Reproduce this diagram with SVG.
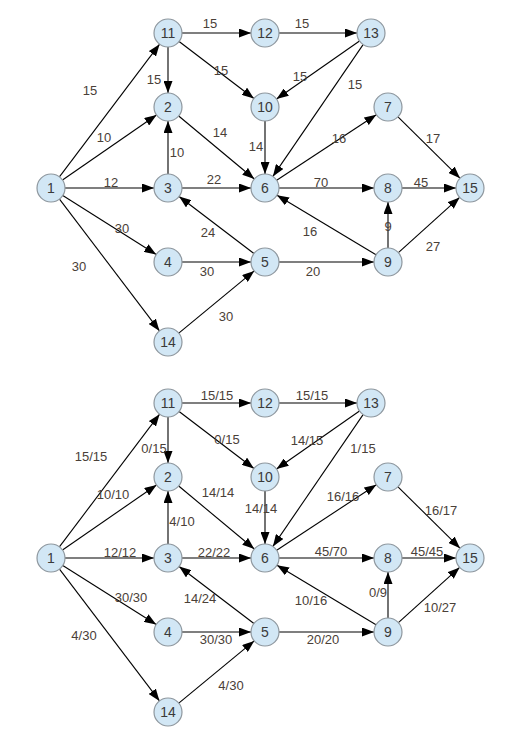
<svg xmlns="http://www.w3.org/2000/svg" width="525" height="740" viewBox="0 0 525 740">
<style>
.n circle{fill:#d2e7f5;stroke:#8e979e;stroke-width:1.2}
.n text{font-family:"Liberation Sans",Arial,sans-serif;font-size:14px;fill:#3a3a3a;text-anchor:middle;dominant-baseline:central}
.e line{stroke:#000;stroke-width:1.1;marker-end:url(#ah)}
.l text{font-family:"Liberation Sans",Arial,sans-serif;font-size:13px;fill:#4a4038;text-anchor:middle;dominant-baseline:central}
</style>
<defs>
<marker id="ah" markerUnits="userSpaceOnUse" markerWidth="13" markerHeight="9" refX="12" refY="4.5" orient="auto"><path d="M0,0 L12,4.5 L0,9 z" fill="#000"/></marker>
</defs>
<rect width="525" height="740" fill="#fff"/>

<g id="top">
<g id="connectors-top" class="e">
<line x1="59.4" y1="176.8" x2="159.6" y2="44.2"/>
<line x1="62.5" y1="180" x2="156.5" y2="115"/>
<line x1="65" y1="188" x2="154" y2="188"/>
<line x1="62.8" y1="195.5" x2="156.2" y2="254.5"/>
<line x1="59.5" y1="199.1" x2="159.5" y2="330.9"/>
<line x1="182" y1="33" x2="251" y2="33"/>
<line x1="168" y1="47" x2="168" y2="93"/>
<line x1="179.1" y1="41.5" x2="253.9" y2="98.5"/>
<line x1="279" y1="33" x2="357" y2="33"/>
<line x1="359.5" y1="41" x2="276.5" y2="99"/>
<line x1="363.1" y1="44.6" x2="272.9" y2="176.4"/>
<line x1="178.7" y1="116" x2="254.3" y2="179"/>
<line x1="168" y1="174" x2="168" y2="121"/>
<line x1="265" y1="121" x2="265" y2="174"/>
<line x1="182" y1="188" x2="251" y2="188"/>
<line x1="276.7" y1="180.3" x2="376.3" y2="114.7"/>
<line x1="398" y1="116.8" x2="460" y2="178.2"/>
<line x1="279" y1="188" x2="374" y2="188"/>
<line x1="402" y1="188" x2="456" y2="188"/>
<line x1="253.9" y1="253.5" x2="179.1" y2="196.5"/>
<line x1="182" y1="262" x2="251" y2="262"/>
<line x1="178.8" y1="333.1" x2="254.2" y2="270.9"/>
<line x1="279" y1="262" x2="374" y2="262"/>
<line x1="376" y1="254.8" x2="277" y2="195.2"/>
<line x1="388" y1="248" x2="388" y2="202"/>
<line x1="398.4" y1="252.6" x2="459.6" y2="197.4"/>
</g>
<g id="labels-top" class="l">
<text x="210" y="23">15</text>
<text x="154" y="79">15</text>
<text x="221" y="70">15</text>
<text x="90" y="90">15</text>
<text x="104" y="137">10</text>
<text x="220" y="132">14</text>
<text x="177" y="152">10</text>
<text x="256" y="146">14</text>
<text x="111" y="182">12</text>
<text x="214" y="179">22</text>
<text x="302" y="23">15</text>
<text x="300" y="76">15</text>
<text x="355" y="84">15</text>
<text x="339" y="138">16</text>
<text x="433" y="138">17</text>
<text x="321" y="182">70</text>
<text x="421" y="182">45</text>
<text x="122" y="228">30</text>
<text x="79" y="266">30</text>
<text x="208" y="232">24</text>
<text x="207" y="271">30</text>
<text x="226" y="316">30</text>
<text x="310" y="231">16</text>
<text x="388" y="226">9</text>
<text x="433" y="246">27</text>
<text x="313" y="271">20</text>
</g>
<g id="t1" class="n"><circle cx="51" cy="188" r="14"/><text x="51" y="188">1</text></g>
<g id="t11" class="n"><circle cx="168" cy="33" r="14"/><text x="168" y="33">11</text></g>
<g id="t12" class="n"><circle cx="265" cy="33" r="14"/><text x="265" y="33">12</text></g>
<g id="t13" class="n"><circle cx="371" cy="33" r="14"/><text x="371" y="33">13</text></g>
<g id="t2" class="n"><circle cx="168" cy="107" r="14"/><text x="168" y="107">2</text></g>
<g id="t10" class="n"><circle cx="265" cy="107" r="14"/><text x="265" y="107">10</text></g>
<g id="t7" class="n"><circle cx="388" cy="107" r="14"/><text x="388" y="107">7</text></g>
<g id="t3" class="n"><circle cx="168" cy="188" r="14"/><text x="168" y="188">3</text></g>
<g id="t6" class="n"><circle cx="265" cy="188" r="14"/><text x="265" y="188">6</text></g>
<g id="t8" class="n"><circle cx="388" cy="188" r="14"/><text x="388" y="188">8</text></g>
<g id="t15" class="n"><circle cx="470" cy="188" r="14"/><text x="470" y="188">15</text></g>
<g id="t4" class="n"><circle cx="168" cy="262" r="14"/><text x="168" y="262">4</text></g>
<g id="t5" class="n"><circle cx="265" cy="262" r="14"/><text x="265" y="262">5</text></g>
<g id="t9" class="n"><circle cx="388" cy="262" r="14"/><text x="388" y="262">9</text></g>
<g id="t14" class="n"><circle cx="168" cy="342" r="14"/><text x="168" y="342">14</text></g>
</g>

<g id="bottom" transform="translate(0,370)">
<g id="connectors-bottom" class="e">
<line x1="59.4" y1="176.8" x2="159.6" y2="44.2"/>
<line x1="62.5" y1="180" x2="156.5" y2="115"/>
<line x1="65" y1="188" x2="154" y2="188"/>
<line x1="62.8" y1="195.5" x2="156.2" y2="254.5"/>
<line x1="59.5" y1="199.1" x2="159.5" y2="330.9"/>
<line x1="182" y1="33" x2="251" y2="33"/>
<line x1="168" y1="47" x2="168" y2="93"/>
<line x1="179.1" y1="41.5" x2="253.9" y2="98.5"/>
<line x1="279" y1="33" x2="357" y2="33"/>
<line x1="359.5" y1="41" x2="276.5" y2="99"/>
<line x1="363.1" y1="44.6" x2="272.9" y2="176.4"/>
<line x1="178.7" y1="116" x2="254.3" y2="179"/>
<line x1="168" y1="174" x2="168" y2="121"/>
<line x1="265" y1="121" x2="265" y2="174"/>
<line x1="182" y1="188" x2="251" y2="188"/>
<line x1="276.7" y1="180.3" x2="376.3" y2="114.7"/>
<line x1="398" y1="116.8" x2="460" y2="178.2"/>
<line x1="279" y1="188" x2="374" y2="188"/>
<line x1="402" y1="188" x2="456" y2="188"/>
<line x1="253.9" y1="253.5" x2="179.1" y2="196.5"/>
<line x1="182" y1="262" x2="251" y2="262"/>
<line x1="178.8" y1="333.1" x2="254.2" y2="270.9"/>
<line x1="279" y1="262" x2="374" y2="262"/>
<line x1="376" y1="254.8" x2="277" y2="195.2"/>
<line x1="388" y1="248" x2="388" y2="202"/>
<line x1="398.4" y1="252.6" x2="459.6" y2="197.4"/>
</g>
<g id="labels-bottom" class="l">
<text x="217" y="25">15/15</text>
<text x="154" y="78">0/15</text>
<text x="227" y="69">0/15</text>
<text x="91" y="86">15/15</text>
<text x="113" y="124">10/10</text>
<text x="218" y="122">14/14</text>
<text x="182" y="151">4/10</text>
<text x="261" y="138">14/14</text>
<text x="120" y="182">12/12</text>
<text x="214" y="182">22/22</text>
<text x="312" y="25">15/15</text>
<text x="307" y="70">14/15</text>
<text x="363" y="78">1/15</text>
<text x="343" y="126">16/16</text>
<text x="441" y="140">16/17</text>
<text x="331" y="181">45/70</text>
<text x="427" y="181">45/45</text>
<text x="131" y="227">30/30</text>
<text x="84" y="265">4/30</text>
<text x="200" y="228">14/24</text>
<text x="216" y="269">30/30</text>
<text x="231" y="315">4/30</text>
<text x="311" y="230">10/16</text>
<text x="378" y="222">0/9</text>
<text x="440" y="237">10/27</text>
<text x="323" y="269">20/20</text>
</g>
<g id="b1" class="n"><circle cx="51" cy="188" r="14"/><text x="51" y="188">1</text></g>
<g id="b11" class="n"><circle cx="168" cy="33" r="14"/><text x="168" y="33">11</text></g>
<g id="b12" class="n"><circle cx="265" cy="33" r="14"/><text x="265" y="33">12</text></g>
<g id="b13" class="n"><circle cx="371" cy="33" r="14"/><text x="371" y="33">13</text></g>
<g id="b2" class="n"><circle cx="168" cy="107" r="14"/><text x="168" y="107">2</text></g>
<g id="b10" class="n"><circle cx="265" cy="107" r="14"/><text x="265" y="107">10</text></g>
<g id="b7" class="n"><circle cx="388" cy="107" r="14"/><text x="388" y="107">7</text></g>
<g id="b3" class="n"><circle cx="168" cy="188" r="14"/><text x="168" y="188">3</text></g>
<g id="b6" class="n"><circle cx="265" cy="188" r="14"/><text x="265" y="188">6</text></g>
<g id="b8" class="n"><circle cx="388" cy="188" r="14"/><text x="388" y="188">8</text></g>
<g id="b15" class="n"><circle cx="470" cy="188" r="14"/><text x="470" y="188">15</text></g>
<g id="b4" class="n"><circle cx="168" cy="262" r="14"/><text x="168" y="262">4</text></g>
<g id="b5" class="n"><circle cx="265" cy="262" r="14"/><text x="265" y="262">5</text></g>
<g id="b9" class="n"><circle cx="388" cy="262" r="14"/><text x="388" y="262">9</text></g>
<g id="b14" class="n"><circle cx="168" cy="342" r="14"/><text x="168" y="342">14</text></g>
</g>
</svg>
